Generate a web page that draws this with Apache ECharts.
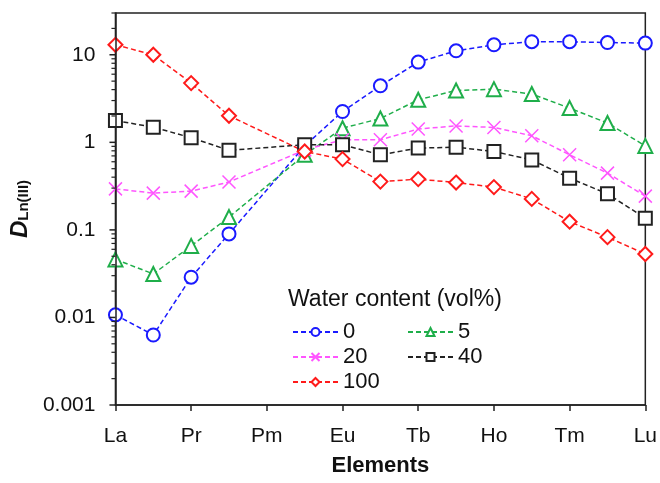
<!DOCTYPE html>
<html>
<head>
<meta charset="utf-8">
<script src="https://cdn.jsdelivr.net/npm/echarts@6/dist/echarts.min.js"></script>
<style>
  html, body { margin: 0; padding: 0; background: #fff; }
  #chart { width: 660px; height: 483px; }
</style>
</head>
<body>
<div id="chart"></div>
<script>
// 元素（Pm 没有数据）
const elements = ['La', 'Ce', 'Pr', 'Nd', 'Pm', 'Sm', 'Eu', 'Gd', 'Tb', 'Dy', 'Ho', 'Er', 'Tm', 'Yb', 'Lu']

const water0 = [0.0107, 0.0063, 0.0288, 0.090, null, 0.91, 2.25, 4.42, 8.25, 11.1, 13.0, 14.1, 14.1, 13.8, 13.6]
const water5 = [0.046, 0.0314, 0.0656, 0.14, null, 0.72, 1.45, 1.87, 3.06, 3.91, 4.05, 3.56, 2.46, 1.66, 0.91]
const water20 = [0.294, 0.263, 0.277, 0.352, null, 0.82, 1.07, 1.07, 1.42, 1.54, 1.48, 1.19, 0.72, 0.445, 0.243]
const water40 = [1.77, 1.49, 1.13, 0.81, null, 0.94, 0.94, 0.72, 0.86, 0.88, 0.785, 0.63, 0.39, 0.258, 0.136]
const water100 = [13.0, 10.0, 4.75, 2.01, null, 0.785, 0.643, 0.356, 0.38, 0.347, 0.308, 0.226, 0.124, 0.0826, 0.053]

const yTicks = [0.001, 0.01, 0.1, 1, 10]
// 对数轴的次刻度
const yMinorTicks = [
  0.002, 0.003, 0.004, 0.005, 0.006, 0.007, 0.008, 0.009,
  0.02, 0.03, 0.04, 0.05, 0.06, 0.07, 0.08, 0.09,
  0.2, 0.3, 0.4, 0.5, 0.6, 0.7, 0.8, 0.9,
  2, 3, 4, 5, 6, 7, 8, 9,
  20, 30
]

const crossPath = 'path://M0,0L10,10M10,0L0,10'

const makeSeries = (name, data, color, symbol, size) => ({
  name: name,
  type: 'line',
  data: data,
  connectNulls: true,
  symbol: symbol,
  symbolSize: size,
  showAllSymbol: true,
  lineStyle: { color: color, width: 1.5, type: [5, 3] },
  itemStyle: { color: color, borderColor: color, borderWidth: 1.5 },
  emphasis: { disabled: true }
})

const chart = echarts.init(document.getElementById('chart'))

const font = 'Liberation Sans, Arial, sans-serif'
const legendText = { fontSize: 22, color: '#111', fontFamily: font }

const option = {
  animation: false,
  textStyle: { fontFamily: font },
  grid: {
    left: 115, right: 13, top: 13, bottom: 78,
    show: true, borderColor: '#222', borderWidth: 1.5
  },
  title: {
    text: 'Water content (vol%)',
    left: 288, top: 288,
    padding: 0,
    textStyle: { fontSize: 23, fontWeight: 'normal', color: '#111', fontFamily: font }
  },
  legend: [
    {
      data: ['0', '20', '100'],
      orient: 'vertical',
      left: 292, top: 321,
      padding: 0,
      itemWidth: 45, itemHeight: 10, itemGap: 3,
      textStyle: legendText
    },
    {
      data: ['5', '40'],
      orient: 'vertical',
      left: 407, top: 321,
      padding: 0,
      itemWidth: 45, itemHeight: 10, itemGap: 3,
      textStyle: legendText
    }
  ],
  xAxis: {
    type: 'category',
    data: elements,
    boundaryGap: false,
    name: 'Elements',
    nameLocation: 'middle',
    nameGap: 50,
    nameTextStyle: { fontSize: 22, fontWeight: 'bold', color: '#111' },
    axisLine: { lineStyle: { color: '#222', width: 1.5 } },
    axisTick: { interval: 1, length: 6, lineStyle: { color: '#222', width: 1.5 } },
    axisLabel: { interval: 1, fontSize: 21, color: '#111', margin: 21 }
  },
  yAxis: {
    type: 'log',
    logBase: 10,
    min: 0.001,
    max: 30,
    z: 5,
    name: '{d|D}{s|Ln(III)}',
    nameLocation: 'middle',
    nameRotate: 90,
    nameGap: 78,
    nameTextStyle: {
      rich: {
        d: { fontSize: 24, fontWeight: 'bold', fontStyle: 'italic', color: '#111' },
        s: { fontSize: 15, fontWeight: 'bold', color: '#111', padding: [8, 0, 0, 0] }
      }
    },
    axisLine: { show: true, lineStyle: { color: '#222', width: 1.5 } },
    axisTick: { show: false },
    splitLine: { show: false },
    axisLabel: {
      fontSize: 21, color: '#111', margin: 20,
      formatter: v => {
        const hit = yTicks.find(t => Math.abs(t - v) / t < 1e-6)
        return hit !== undefined ? String(hit) : ''
      }
    }
  },
  series: [
    makeSeries('0', water0, '#1a1aff', 'emptyCircle', 13),
    makeSeries('5', water5, '#1fae4a', 'emptyTriangle', 14),
    makeSeries('20', water20, '#ff55ff', crossPath, 13),
    makeSeries('40', water40, '#222222', 'emptyRect', 13),
    makeSeries('100', water100, '#ff1a1a', 'emptyDiamond', 14)
  ]
}

chart.setOption(option)

// y 轴刻度：主刻度 6px、次刻度 4px，朝外
const axisX = chart.convertToPixel({ xAxisIndex: 0 }, 0)
const tickLine = (v, len, w) => {
  const y = chart.convertToPixel({ yAxisIndex: 0 }, v)
  return {
    type: 'line',
    silent: true,
    z: 10,
    shape: { x1: axisX - len, y1: y, x2: axisX, y2: y },
    style: { stroke: '#222', lineWidth: w }
  }
}
chart.setOption({
  graphic: yTicks.map(v => tickLine(v, 6, 1.5)).concat(yMinorTicks.map(v => tickLine(v, 4, 1.2)))
})
</script>
</body>
</html>
